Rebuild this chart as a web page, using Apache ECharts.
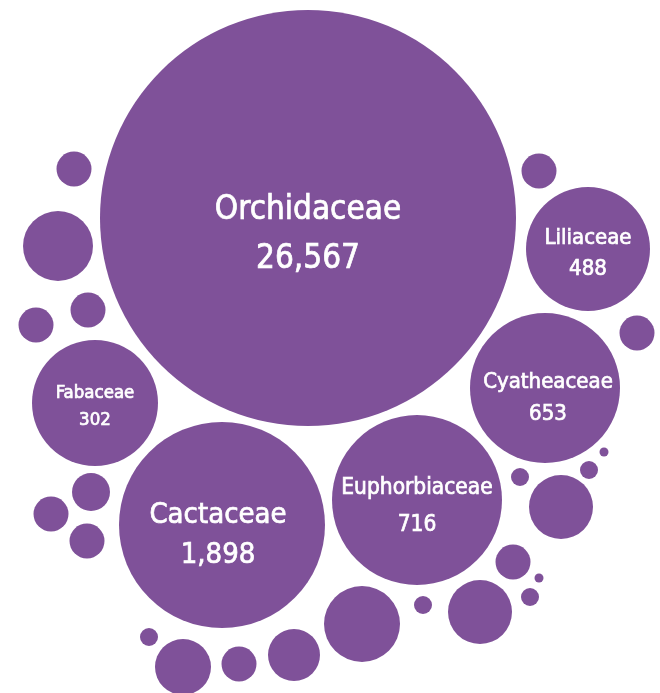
<!DOCTYPE html>
<html>
<head>
<meta charset="utf-8">
<script src="https://cdn.jsdelivr.net/npm/echarts@6/dist/echarts.min.js"></script>
<style>
  html, body { margin: 0; padding: 0; background: #fff; }
</style>
</head>
<body>
<div id="main" style="width:660px;height:693px;"></div>
<script type="text/javascript">
// labelled families: name, species count, centre (x, y) and radius in chart units
var families = ['Orchidaceae', 'Cactaceae', 'Euphorbiaceae', 'Cyatheaceae', 'Liliaceae', 'Fabaceae'];
var counts   = [26567, 1898, 716, 653, 488, 302];
var famX     = [308, 222, 417, 545, 588, 95];
var famY     = [218, 525, 500, 388, 249, 403];
var famR     = [208, 103, 85, 75, 62, 63];

// unlabelled small bubbles
var dotX = [74, 58, 88, 36, 91, 51, 87, 149, 183, 239, 294, 362, 423, 520, 561, 589, 604, 513, 539, 530, 480, 539, 637];
var dotY = [169, 246, 310, 325, 492, 514, 541, 637, 667, 664, 655, 624, 605, 477, 507, 470, 452, 562, 578, 597, 612, 171, 333];
var dotR = [17.5, 35, 17.5, 17.5, 19, 17.5, 17.5, 9, 28, 17.5, 26, 38, 9, 9, 32, 9, 4.5, 17.5, 4.5, 9, 32, 17.5, 17.5];

// label styling per family
var labelSize = [33, 29, 22.5, 22, 22, 18.5];
var labelLine = [48.6, 40, 37, 32, 31.4, 26.7];
var labelDx   = [0, -4, 0, 3, 0, 0];
var labelDy   = [17, 10, 7, 10, 5, 4];

var purple = '#7f5199';

var data = [];
for (var i = 0; i < families.length; i++) {
  data.push({
    name: families[i],
    value: [famX[i], famY[i], famR[i], counts[i]],
    label: {
      show: true,
      fontSize: labelSize[i],
      lineHeight: labelLine[i],
      offset: [labelDx[i], labelDy[i]]
    }
  });
}
for (var j = 0; j < dotX.length; j++) {
  data.push({ name: '', value: [dotX[j], dotY[j], dotR[j], null] });
}

var myChart = echarts.init(document.getElementById('main'));
myChart.setOption({
  animation: false,
  grid: { left: 0, right: 0, top: 0, bottom: 0 },
  xAxis: { type: 'value', min: 0, max: 660, show: false },
  yAxis: { type: 'value', min: 0, max: 693, inverse: true, show: false },
  series: [{
    type: 'scatter',
    data: data,
    symbolSize: function (v) { return v[2] * 2; },
    itemStyle: { color: purple, opacity: 1 },
    label: {
      show: false,
      position: 'inside',
      color: '#fff',
      fontFamily: '"DejaVu Sans Condensed", "DejaVu Sans", sans-serif',
      textBorderColor: '#fff',
      textBorderWidth: 0.7,
      formatter: function (p) {
        if (!p.name) return '';
        return p.name + '\n' + p.value[3].toLocaleString('en-US');
      }
    },
    emphasis: { disabled: true }
  }]
});
</script>
</body>
</html>
